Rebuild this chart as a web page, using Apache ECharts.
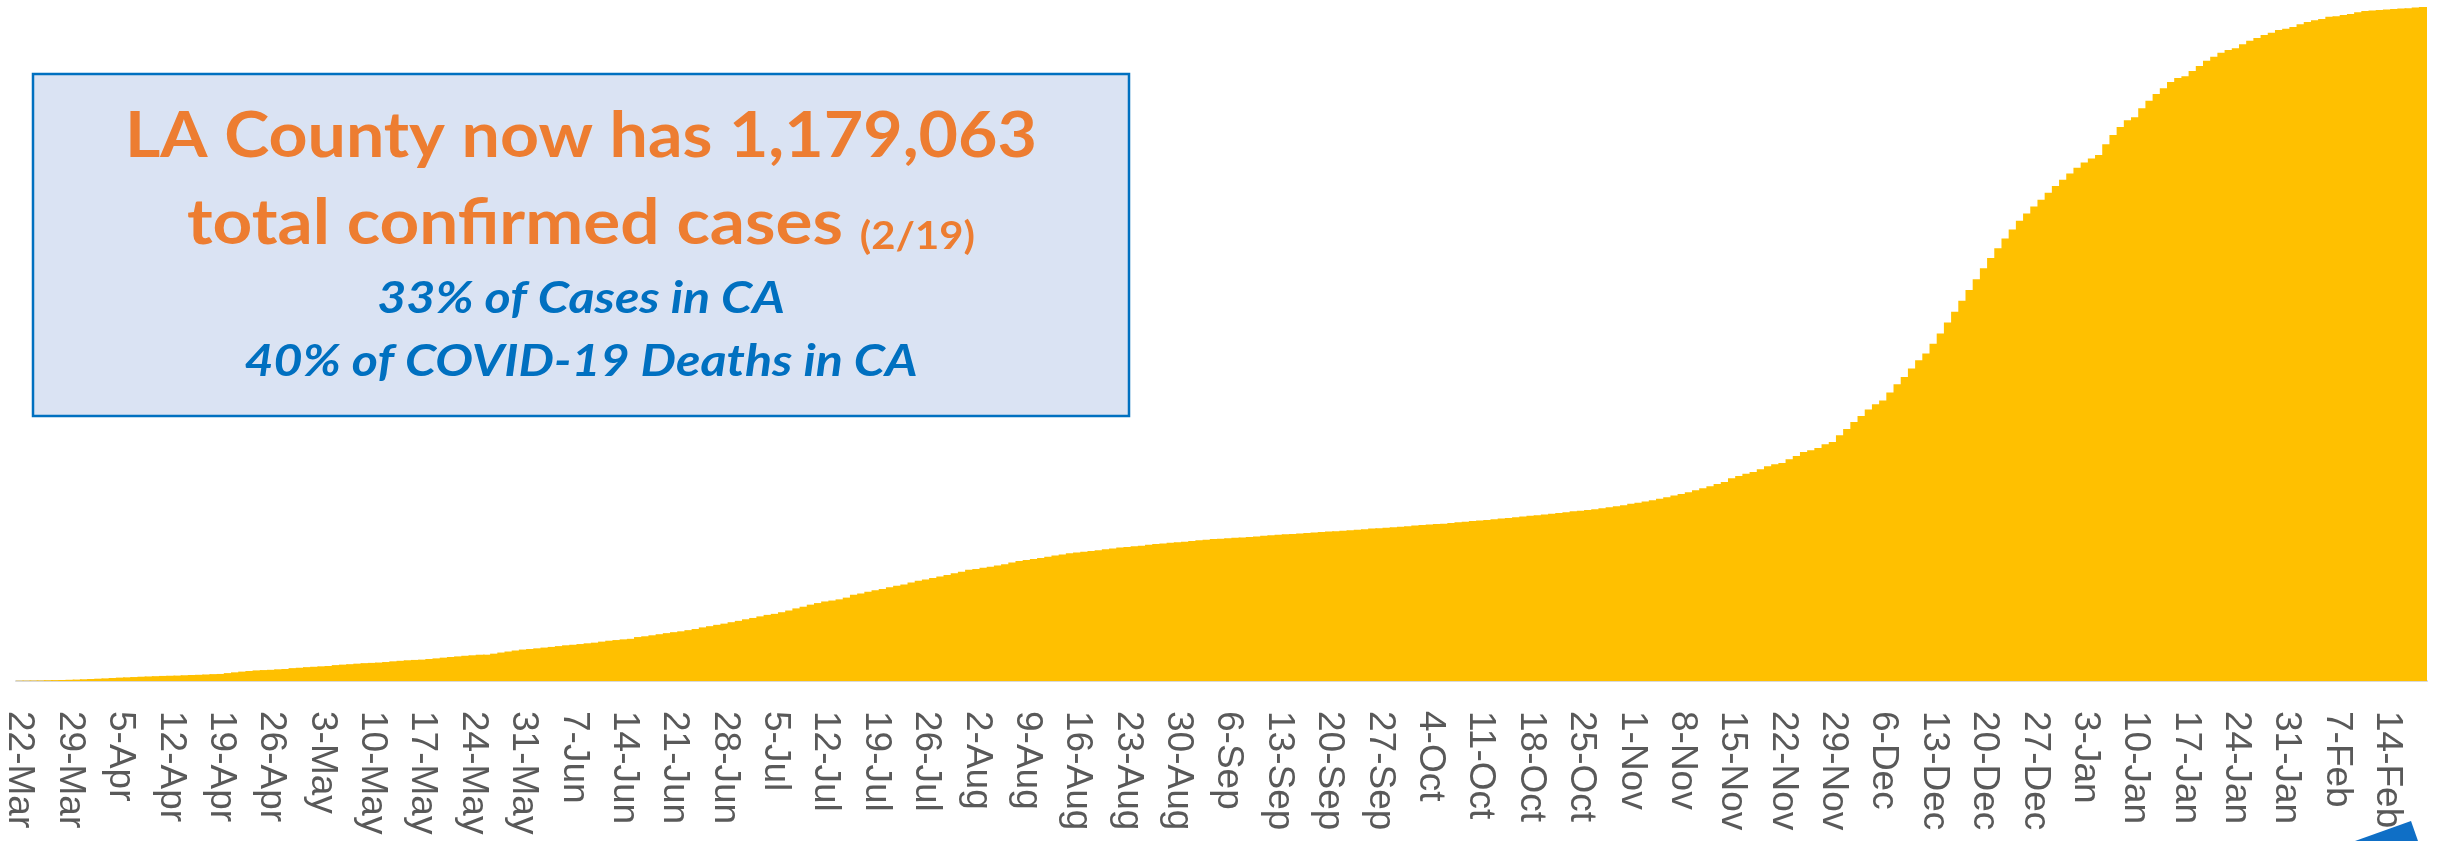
<!DOCTYPE html>
<html>
<head>
<meta charset="utf-8">
<script src="https://cdn.jsdelivr.net/npm/echarts@6/dist/echarts.min.js"></script>
<style>
  html, body { margin: 0; padding: 0; background: #fff; }
  #chart { width: 2440px; height: 841px; }
</style>
</head>
<body>
<div id="chart"></div>
<script>
// daily cumulative confirmed cases, LA County, 22-Mar-2020 .. 19-Feb-2021
const startDay = Date.UTC(2020, 2, 22);
const monthNames = ['Jan', 'Feb', 'Mar', 'Apr', 'May', 'Jun', 'Jul', 'Aug', 'Sep', 'Oct', 'Nov', 'Dec'];

const totalCases = [
    409, 536, 662, 812, 1216, 1465, 1804,
    2136, 2474, 3011, 3518, 4045, 4566, 5277,
    5940, 6360, 6910, 7530, 7955, 8430, 8873,
    9192, 9420, 10047, 10496, 10854, 11391, 12021,
    12341, 13816, 15140, 16435, 17508, 18545, 19133,
    19567, 20460, 20976, 22522, 23182, 24215, 24894,
    25662, 26217, 27815, 28644, 29427, 30334, 31241,
    31703, 32258, 33180, 34428, 35329, 36259, 36854,
    37374, 38451, 39573, 40857, 41977, 43052, 44140,
    44988, 45969, 46018, 47822, 49774, 51562, 53344,
    54996, 55968, 57145, 58452, 59618, 61045, 62474,
    63399, 64644, 65958, 67064, 68875, 70476, 71644,
    72875, 73791, 76864, 78227, 79983, 81859, 83735,
    85420, 86920, 88983, 90995, 93766, 95904, 98245,
    100355, 102864, 105218, 107969, 110284, 113050, 115665,
    117475, 120314, 123307, 127013, 129951, 133549, 136341,
    139136, 140752, 142809, 145882, 150758, 152922, 155987,
    158887, 160850, 164162, 166600, 168599, 172096, 175303,
    177688, 180382, 182997, 185489, 188508, 191253, 194431,
    195980, 197912, 199948, 201971, 204047, 207253, 209807,
    211808, 213366, 215088, 217409, 219716, 221509, 223459,
    224785, 226141, 227468, 228896, 230387, 231887, 233337,
    234557, 235608, 236667, 238223, 239474, 240750, 241963,
    242940, 243814, 244809, 246008, 247076, 248263, 249023,
    249815, 250495, 251179, 251803, 252637, 253985, 255072,
    255936, 256620, 257309, 258000, 258777, 259685, 260516,
    261446, 262108, 262790, 263610, 264570, 265604, 266566,
    267402, 268104, 268757, 269706, 270722, 271853, 272776,
    273633, 274430, 275244, 276356, 277575, 278796, 279871,
    280840, 281704, 282813, 284156, 285299, 286616, 287836,
    288924, 289946, 291134, 292481, 293939, 295390, 296755,
    298011, 299184, 300566, 302227, 303793, 305516, 307326,
    310000, 311800, 313900, 316200, 318700, 321400, 324300,
    327300, 330400, 333700, 337200, 340800, 344500, 348200,
    354500, 358500, 362700, 365500, 370300, 375500, 379000,
    381300, 387800, 393600, 400600, 403500, 407600, 414000,
    418100, 429800, 440800, 453100, 463600, 474800, 484100,
    490500, 504600, 519100, 531900, 546600, 561100, 572800,
    590000, 608000, 627000, 646000, 665000, 684000, 703000,
    722000, 740000, 757000, 774000, 790000, 805000, 818000,
    830000, 842000, 854000, 866000, 877000, 888000, 898000,
    907000, 914000, 920000, 939000, 955000, 969000, 981000,
    986000, 1002000, 1015000, 1027000, 1037000, 1048000, 1055000,
    1058000, 1067000, 1076000, 1085000, 1092000, 1099000, 1104000,
    1107000, 1114000, 1120000, 1125000, 1130000, 1134000, 1139000,
    1141000, 1144000, 1149000, 1153000, 1156000, 1158000, 1162000,
    1163000, 1165000, 1167000, 1170000, 1172000, 1173000, 1174000,
    1174500, 1175500, 1176500, 1177000, 1178300, 1179063
];

const headline = 'LA County now has 1,179,063';
const subline = 'total confirmed cases';
const asOf = '(2/19)';
const shareCases = '33% of Cases in CA';
const shareDeaths = '40% of COVID-19 Deaths in CA';

// one category per day, label text like "22-Mar"
const days = totalCases.map((v, i) => {
    const d = new Date(startDay + i * 86400000);
    return d.getUTCDate() + '-' + monthNames[d.getUTCMonth()];
});

const myChart = echarts.init(document.getElementById('chart'));

const option = {
    animation: false,
    backgroundColor: '#fff',
    grid: { left: 16, right: 13, top: 7, bottom: 160, containLabel: false },
    xAxis: {
        type: 'category',
        data: days,
        axisTick: { show: false },
        axisLine: { lineStyle: { color: '#D9D9D9', width: 2 } },
        axisLabel: {
            interval: 6,
            rotate: -90,
            margin: 30,
            color: '#595959',
            fontSize: 37,
            fontFamily: 'Liberation Sans'
        }
    },
    yAxis: {
        type: 'value',
        min: 0,
        max: 1179063,
        show: false,
        splitLine: { show: false }
    },
    series: [{
        name: 'Total cases',
        type: 'bar',
        data: totalCases,
        // bars a bit wider than the 7.2px day slot so neighbours overlap, no seams
        barWidth: 9,
        barGap: '-100%',
        itemStyle: { color: '#FFC000' }
    }],
    graphic: [
        {
            type: 'rect',
            shape: { x: 33, y: 74, width: 1096, height: 342 },
            style: { fill: '#DAE3F3', stroke: '#0070C0', lineWidth: 2.5 },
            z: 10
        },
        {
            type: 'text',
            x: 581, y: 137,
            scaleX: 1.08,
            style: {
                text: headline,
                fill: '#ED7D31',
                font: 'bold 63px Lato',
                align: 'center',
                verticalAlign: 'middle'
            },
            z: 11
        },
        {
            type: 'text',
            x: 581, y: 224,
            scaleX: 1.1,
            style: {
                text: '{big|' + subline + ' }{small|' + asOf + '}',
                align: 'center',
                verticalAlign: 'middle',
                rich: {
                    big: { fill: '#ED7D31', font: 'bold 63px Lato' },
                    small: { fill: '#ED7D31', font: 'bold 38px Lato', verticalAlign: 'bottom' }
                }
            },
            z: 11
        },
        {
            type: 'text',
            x: 581, y: 299,
            scaleX: 1.14,
            style: {
                text: shareCases,
                fill: '#0070C0',
                font: 'italic bold 44px Lato',
                align: 'center',
                verticalAlign: 'middle'
            },
            z: 11
        },
        {
            type: 'text',
            x: 581, y: 362,
            scaleX: 1.14,
            style: {
                text: shareDeaths,
                fill: '#0070C0',
                font: 'italic bold 44px Lato',
                align: 'center',
                verticalAlign: 'middle'
            },
            z: 11
        },
        {
            // corner of the slide decoration peeking in at bottom right
            type: 'polygon',
            shape: { points: [[2355, 841], [2411, 821], [2418, 841]] },
            style: { fill: '#0F6FC6' },
            z: 5
        }
    ]
};

myChart.setOption(option);
</script>
</body>
</html>
